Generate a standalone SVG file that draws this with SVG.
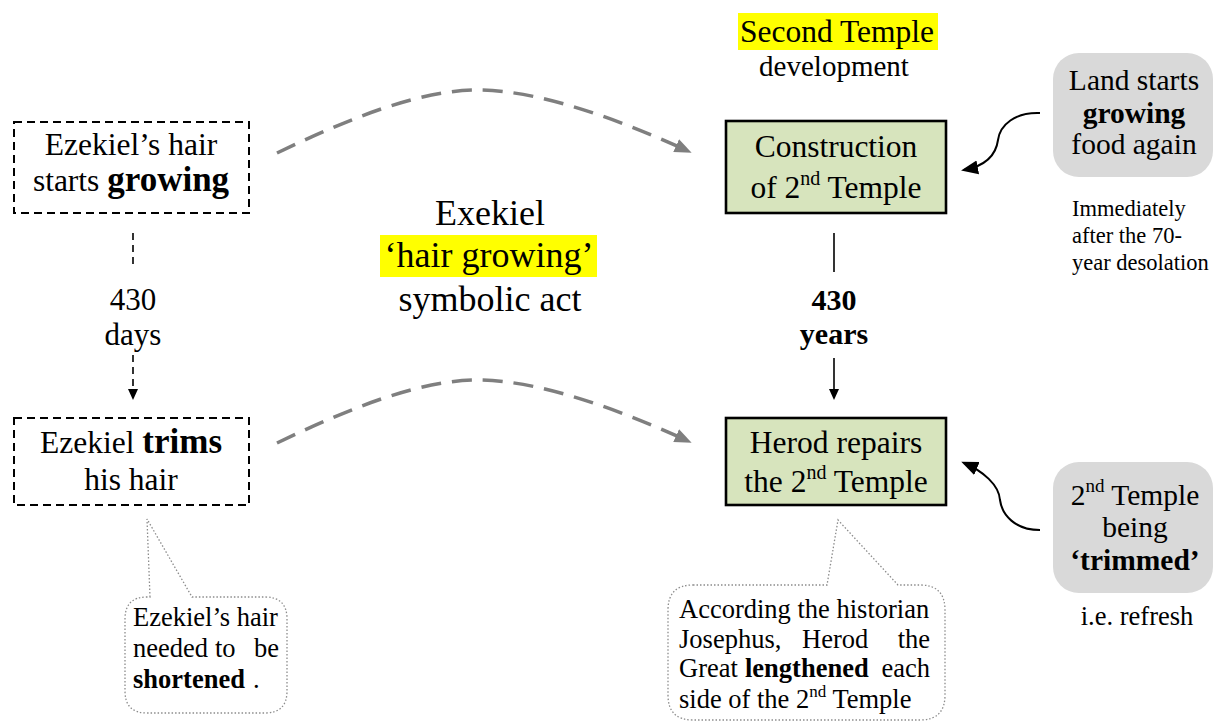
<svg xmlns="http://www.w3.org/2000/svg" width="1213" height="722" viewBox="0 0 1213 722">
<style>
text{font-family:"Liberation Serif","Times New Roman",serif;fill:#000}
.b{font-weight:bold}
.dash{fill:#fff;stroke:#000;stroke-width:2;stroke-dasharray:8 5}
.green{fill:#d7e4bd;stroke:#000;stroke-width:2.6}
.gray{fill:#d9d9d9;stroke:none}
.bubble{fill:#fff;stroke:#8c8c8c;stroke-width:1.3;stroke-dasharray:1.5 2}
.hl{fill:#ffff00}
.gcurve{fill:none;stroke:#7f7f7f;stroke-width:3.5;stroke-dasharray:20 11;marker-end:url(#ag)}
.bcurve{fill:none;stroke:#000;stroke-width:2;marker-end:url(#ab)}
.vline{fill:none;stroke:#000;stroke-width:1.6}
</style>
<defs>
<marker id="ag" markerUnits="userSpaceOnUse" markerWidth="18" markerHeight="16" refX="13" refY="8" orient="auto"><path d="M0,1 L17,8 L0,15 Z" fill="#7f7f7f"/></marker>
<marker id="ab" markerUnits="userSpaceOnUse" markerWidth="18" markerHeight="16" refX="14" refY="8" orient="auto"><path d="M0,1 L17,8 L0,15 Z" fill="#000"/></marker>
<marker id="as" markerUnits="userSpaceOnUse" markerWidth="12" markerHeight="12" refX="9" refY="5" orient="auto"><path d="M0,0 L11,5 L0,10 Z" fill="#000"/></marker>
</defs>

<g id="connectors">
<path class="gcurve" d="M277,153 C350,118 420,90 477,90 C540,90 620,120 688,151"/>
<path class="gcurve" d="M277,443 C350,408 420,380 477,380 C540,380 620,410 688,441"/>
<path class="vline" stroke-dasharray="7 5" d="M133,233 L133,268"/>
<path class="vline" stroke-dasharray="7 5" d="M133,355 L133,398" marker-end="url(#as)"/>
<path class="vline" d="M834,233 L834,272"/>
<path class="vline" d="M834,358 L834,398" marker-end="url(#as)"/>
<path class="bcurve" d="M1040,113 C1015,112 1000,125 998,140 C996,155 985,166 964,170"/>
<path class="bcurve" d="M1040,530 C1015,530 1002,515 1000,500 C999,485 983,471 964,463"/>
</g>

<g id="hair-grows">
<rect class="dash" x="14" y="122" width="235" height="91"/>
<text x="131" y="155" font-size="31.5" text-anchor="middle">Ezekiel’s hair</text>
<text x="131" y="191" font-size="31.5" text-anchor="middle">starts <tspan class="b" font-size="35">growing</tspan></text>
</g>

<g id="days-label">
<text x="133" y="310" font-size="31" text-anchor="middle">430</text>
<text x="133" y="345" font-size="31" text-anchor="middle">days</text>
</g>

<g id="hair-trim">
<rect class="dash" x="14" y="418" width="235" height="87"/>
<text x="131" y="453" font-size="31.5" text-anchor="middle">Ezekiel <tspan class="b" font-size="35">trims</tspan></text>
<text x="131" y="490" font-size="31.5" text-anchor="middle">his hair</text>
</g>

<g id="note-shortened">
<path class="bubble" d="M150,597 L147,519 L192,597 L265,597 Q287,597 287,619 L287,691 Q287,713 265,713 L147,713 Q125,713 125,691 L125,619 Q125,597 147,597 Z"/>
<text x="133" y="626" font-size="26.5">Ezekiel’s hair</text>
<text y="657" font-size="26.5"><tspan x="133">needed</tspan><tspan x="215">to</tspan></text>
<text x="279" y="657" font-size="26.5" text-anchor="end">be</text>
<text y="688" font-size="26.5"><tspan x="133" class="b">shortened</tspan><tspan x="253">.</tspan></text>
</g>

<g id="symbolic-act">
<rect class="hl" x="380" y="235" width="217" height="42"/>
<text x="490" y="225" font-size="36" text-anchor="middle">Exekiel</text>
<text x="489" y="267" font-size="36" text-anchor="middle">‘hair growing’</text>
<text x="490" y="311" font-size="36" text-anchor="middle">symbolic act</text>
</g>

<g id="title-second-temple">
<rect class="hl" x="738" y="13" width="200" height="37"/>
<text x="837" y="42" font-size="31.5" text-anchor="middle">Second Temple</text>
<text x="834" y="76" font-size="29" text-anchor="middle">development</text>
</g>

<g id="construction">
<rect class="green" x="726" y="121" width="220" height="92"/>
<text x="836" y="157" font-size="31.5" text-anchor="middle">Construction</text>
<text x="836" y="198" font-size="31.5" text-anchor="middle">of 2<tspan font-size="20" dy="-13">nd</tspan><tspan dy="13"> Temple</tspan></text>
</g>

<g id="years-label">
<text x="834" y="310" font-size="30" class="b" text-anchor="middle">430</text>
<text x="834" y="344" font-size="30" class="b" text-anchor="middle">years</text>
</g>

<g id="herod">
<rect class="green" x="726" y="418" width="220" height="87"/>
<text x="836" y="453" font-size="31.5" text-anchor="middle">Herod repairs</text>
<text x="836" y="492" font-size="31.5" text-anchor="middle">the 2<tspan font-size="20" dy="-13">nd</tspan><tspan dy="13"> Temple</tspan></text>
</g>

<g id="note-josephus">
<path class="bubble" d="M693,585 L827,585 L838,520 L898,585 L920,585 Q945,585 945,610 L945,695 Q945,720 920,720 L693,720 Q668,720 668,695 L668,610 Q668,585 693,585 Z"/>
<text x="679" y="618" font-size="26.5">According the historian</text>
<text y="648" font-size="26.5"><tspan x="679">Josephus,</tspan><tspan x="802">Herod</tspan></text>
<text x="930" y="648" font-size="26.5" text-anchor="end">the</text>
<text y="677" font-size="26.5"><tspan x="679">Great</tspan><tspan x="745" class="b">lengthened</tspan></text>
<text x="930" y="677" font-size="26.5" text-anchor="end">each</text>
<text x="679" y="708" font-size="26.5">side of the 2<tspan font-size="17" dy="-11">nd</tspan><tspan dy="11"> Temple</tspan></text>
</g>

<g id="land-grows">
<rect class="gray" x="1053" y="53" width="160" height="124" rx="26"/>
<text x="1134" y="90" font-size="29.5" text-anchor="middle">Land starts</text>
<text x="1134" y="123" font-size="29.5" class="b" text-anchor="middle">growing</text>
<text x="1134" y="154" font-size="29.5" text-anchor="middle">food again</text>
</g>

<g id="desolation-note">
<text x="1072" y="216" font-size="22.5">Immediately</text>
<text x="1072" y="243" font-size="22.5">after the 70-</text>
<text x="1072" y="270" font-size="22.5">year desolation</text>
</g>

<g id="temple-trimmed">
<rect class="gray" x="1053" y="462" width="160" height="131" rx="26"/>
<text x="1135" y="505" font-size="29.5" text-anchor="middle">2<tspan font-size="19" dy="-13">nd</tspan><tspan dy="13"> Temple</tspan></text>
<text x="1135" y="537" font-size="29.5" text-anchor="middle">being</text>
<text x="1135" y="570" font-size="29.5" class="b" text-anchor="middle">‘trimmed’</text>
</g>

<g id="refresh-note">
<text x="1137" y="625" font-size="26.5" text-anchor="middle">i.e. refresh</text>
</g>
</svg>
